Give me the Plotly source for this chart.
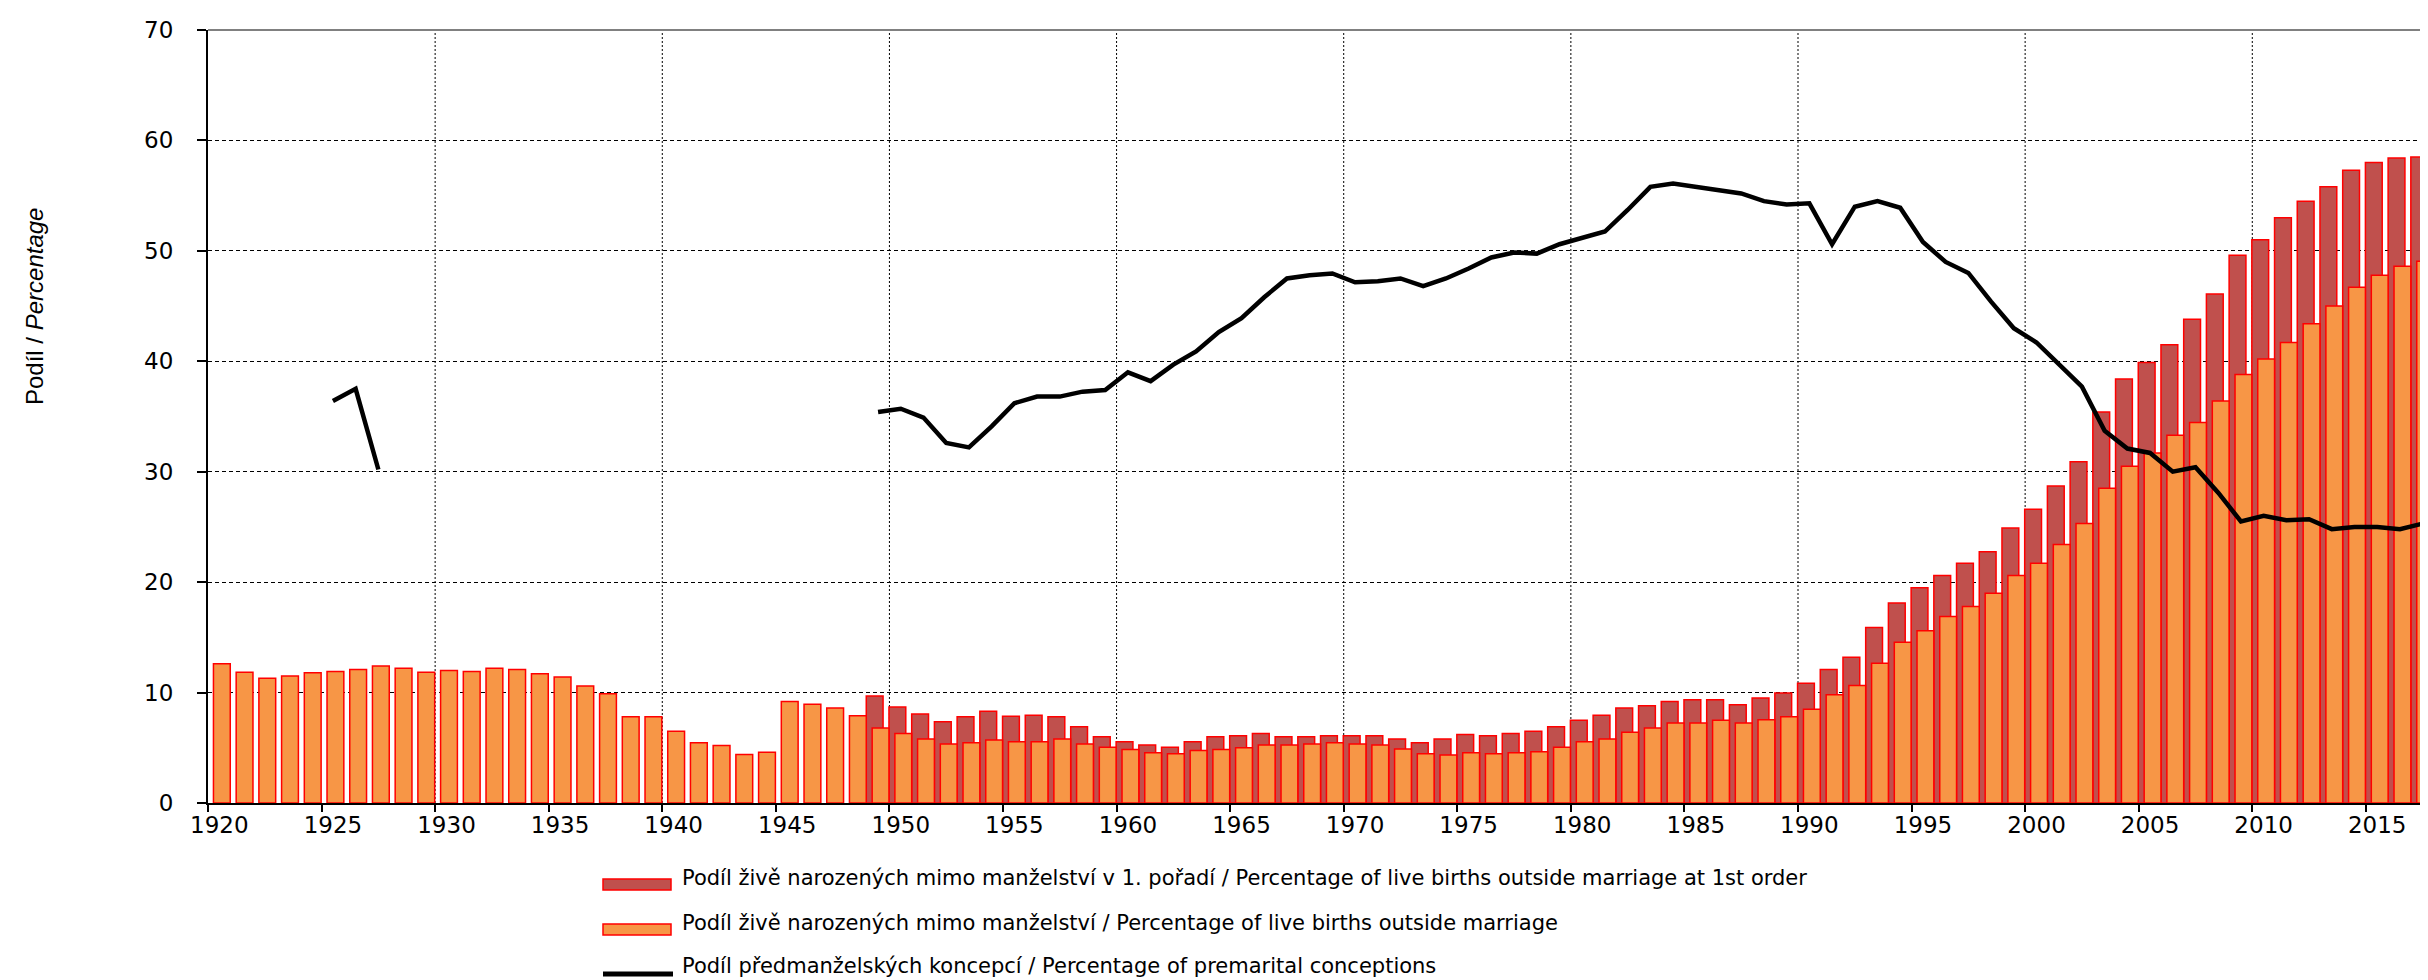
import plotly.graph_objects as go

# ---------------- data ----------------
years = list(range(1920, 2018))

# Share of live births outside marriage (%), 1920-2017
share_outside = [
    12.6, 11.85, 11.3, 11.5, 11.8, 11.9, 12.1, 12.4, 12.2, 11.85,   # 1920-1929
    12.0, 11.9, 12.2, 12.1, 11.7, 11.4, 10.6, 9.9, 7.8, 7.8,        # 1930-1939
    6.5, 5.45, 5.2, 4.4, 4.6, 9.2, 8.95, 8.6, 7.9, 6.8,             # 1940-1949
    6.3, 5.8, 5.35, 5.45, 5.7, 5.55, 5.55, 5.8, 5.35, 5.05,         # 1950-1959
    4.85, 4.55, 4.45, 4.75, 4.85, 5.0, 5.25, 5.25, 5.35, 5.45,      # 1960-1969
    5.35, 5.25, 4.9, 4.45, 4.35, 4.55, 4.45, 4.55, 4.65, 5.05,      # 1970-1979
    5.55, 5.8, 6.4, 6.8, 7.25, 7.25, 7.5, 7.25, 7.55, 7.8,          # 1980-1989
    8.5, 9.8, 10.65, 12.65, 14.55, 15.6, 16.9, 17.8, 19.0, 20.6,    # 1990-1999
    21.7, 23.4, 25.3, 28.5, 30.5, 31.7, 33.3, 34.45, 36.4, 38.8,    # 2000-2009
    40.2, 41.7, 43.4, 45.0, 46.7, 47.8, 48.6, 49.05,                # 2010-2017
]

# Share of live births outside marriage at 1st order (%), available from 1949
share_first_order = [None] * 29 + [
    9.7,                                                            # 1949
    8.7, 8.05, 7.35, 7.8, 8.3, 7.85, 7.95, 7.8, 6.9, 6.0,           # 1950-1959
    5.55, 5.25, 5.05, 5.55, 6.0, 6.1, 6.3, 6.0, 6.0, 6.1,           # 1960-1969
    6.1, 6.1, 5.8, 5.45, 5.8, 6.2, 6.1, 6.3, 6.5, 6.9,              # 1970-1979
    7.5, 7.95, 8.6, 8.8, 9.2, 9.35, 9.35, 8.9, 9.5, 9.95,           # 1980-1989
    10.85, 12.1, 13.2, 15.9, 18.1, 19.5, 20.6, 21.7, 22.75, 24.9,   # 1990-1999
    26.6, 28.7, 30.9, 35.4, 38.4, 39.9, 41.5, 43.8, 46.1, 49.6,     # 2000-2009
    51.0, 53.0, 54.5, 55.8, 57.3, 58.0, 58.4, 58.5,                 # 2010-2017
]

# Share of premarital conceptions (%)
premarital = [None] * 5 + [36.4, 37.5, 30.2] + [None] * 21 + [
    35.4,                                                           # 1949
    35.7, 34.9, 32.6, 32.2, 34.1, 36.2, 36.8, 36.8, 37.25, 37.4,    # 1950-1959
    39.0, 38.2, 39.7, 40.9, 42.65, 43.9, 45.8, 47.5, 47.8, 47.95,   # 1960-1969
    47.15, 47.25, 47.5, 46.8, 47.5, 48.4, 49.4, 49.85, 49.75, 50.6, # 1970-1979
    51.2, 51.75, 53.7, 55.8, 56.1, 55.8, 55.6, 55.2, 54.5, 54.2,    # 1980-1989
    54.3, 50.6, 54.0, 54.5, 53.9, 50.8, 49.0, 48.0, 45.4, 43.0,     # 1990-1999
    41.7, 39.7, 37.7, 33.7, 32.1, 31.7, 30.0, 30.4, 28.1, 25.5,     # 2000-2009
    26.0, 25.6, 25.7, 24.8, 25.0, 25.0, 24.8, 25.3,                 # 2010-2017
]

tick_years = list(range(1920, 2016, 5))
grid_years = list(range(1930, 2011, 10))
y_ticks = list(range(0, 71, 10))

legend_labels = [
    "Podíl živě narozených mimo manželství v 1. pořadí / Percentage of live births outside marriage at 1st order",
    "Podíl živě narozených mimo manželství / Percentage of live births outside marriage",
    "Podíl předmanželských koncepcí / Percentage of premarital conceptions",
]
y_title = "Podíl / <i>Percentage</i>"

assert len(share_outside) == len(years)
assert len(share_first_order) == len(years)
assert len(premarital) == len(years)

# ---------------- style ----------------
W, H = 2428, 980
ML, MR, MT, MB = 200, 2, 22, 185
DARK = "#C0504D"
ORANGE = "#F79646"
EDGE = "#FF0000"
TICK_FONT = dict(family="DejaVu Sans", size=23, color="black")
LEG_FONT = dict(family="DejaVu Sans", size=21, color="black")


def px_x(p):
    return (p - ML) / (W - ML - MR)


def px_y(p):
    return (H - MB - p) / (H - MB - MT)


fig = go.Figure()

fig.add_trace(go.Bar(
    x=years, y=share_first_order, offset=-0.02, width=0.74,
    marker=dict(color=DARK, line=dict(color=EDGE, width=1.5)),
    name=legend_labels[0], showlegend=False,
))
fig.add_trace(go.Bar(
    x=years, y=share_outside, offset=0.24, width=0.74,
    marker=dict(color=ORANGE, line=dict(color=EDGE, width=1.5)),
    name=legend_labels[1], showlegend=False,
))
fig.add_trace(go.Scatter(
    x=[y + 0.5 for y in years], y=premarital, mode="lines",
    line=dict(color="black", width=4.5), connectgaps=False,
    name=legend_labels[2], showlegend=False,
))

shapes = []
# vertical dotted grid lines every 10 years
for gy in grid_years:
    shapes.append(dict(type="line", xref="x", yref="paper", x0=gy, x1=gy, y0=0, y1=1,
                       line=dict(color="black", width=1, dash="2px,2px"), layer="below"))
# grey frame top / right
shapes.append(dict(type="line", xref="paper", yref="paper", x0=0, x1=1, y0=1, y1=1,
                   line=dict(color="#808080", width=2), layer="above"))
shapes.append(dict(type="line", xref="paper", yref="paper", x0=1, x1=1, y0=0, y1=1,
                   line=dict(color="#808080", width=2), layer="above"))

# manual legend (wide swatches like the original)
swatch_rows = [876.5, 921.5, 966.0]
text_rows = [870.0, 915.0, 958.0]
sw_x0, sw_x1, txt_x = 595, 663, 672
annotations = []
for i, (label, ys, yt) in enumerate(zip(legend_labels, swatch_rows, text_rows)):
    if i < 2:
        shapes.append(dict(type="rect", xref="paper", yref="paper",
                           x0=px_x(sw_x0), x1=px_x(sw_x1), y0=px_y(ys + 5.5), y1=px_y(ys - 5.5),
                           fillcolor=DARK if i == 0 else ORANGE,
                           line=dict(color=EDGE, width=1.5)))
    else:
        shapes.append(dict(type="line", xref="paper", yref="paper",
                           x0=px_x(sw_x0), x1=px_x(sw_x1 + 2), y0=px_y(ys), y1=px_y(ys),
                           line=dict(color="black", width=5)))
    annotations.append(dict(xref="paper", yref="paper", x=px_x(txt_x), y=px_y(yt),
                            xanchor="left", yanchor="middle", showarrow=False,
                            text=label, font=LEG_FONT))

annotations.append(dict(xref="paper", yref="paper", x=px_x(26), y=px_y(299),
                        xanchor="center", yanchor="middle", showarrow=False, textangle=-90,
                        text=y_title,
                        font=dict(family="Liberation Sans", size=24, color="black")))

fig.update_layout(
    width=W, height=H,
    margin=dict(l=ML, r=MR, t=MT, b=MB, pad=0),
    paper_bgcolor="white", plot_bgcolor="white",
    barmode="overlay",
    showlegend=False,
    shapes=shapes,
    annotations=annotations,
    xaxis=dict(
        range=[1920, 2018],
        tickmode="array",
        tickvals=[y + 0.5 for y in tick_years],
        ticktext=[str(y) for y in tick_years],
        ticks="",
        ticklabelstandoff=0,
        tickfont=TICK_FONT,
        showgrid=False, zeroline=False,
        showline=True, linecolor="black", linewidth=2,
        minor=dict(tickmode="array", tickvals=tick_years, ticks="outside",
                   ticklen=7, tickwidth=2, tickcolor="black", showgrid=False),
    ),
    yaxis=dict(
        range=[0, 70],
        tickmode="array", tickvals=y_ticks,
        ticks="outside", ticklen=9, tickwidth=2, tickcolor="black",
        ticklabelstandoff=19,
        tickfont=TICK_FONT,
        showgrid=True, gridcolor="black", gridwidth=1, griddash="4px,3px",
        zeroline=False,
        showline=True, linecolor="black", linewidth=2,
    ),
)

fig.write_html("out.html")
